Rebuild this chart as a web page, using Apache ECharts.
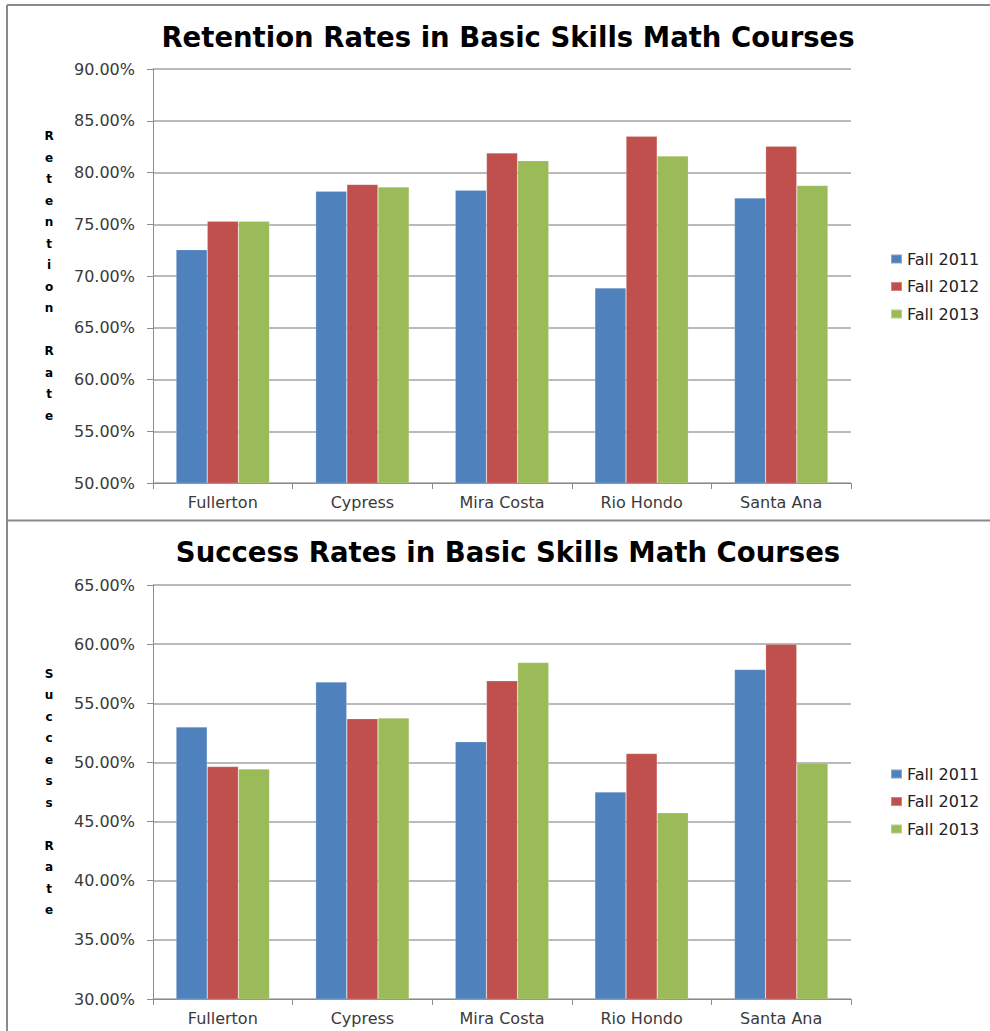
<!DOCTYPE html>
<html>
<head>
<meta charset="utf-8">
<script src="https://cdn.jsdelivr.net/npm/echarts@6/dist/echarts.min.js"></script>
<style>
  html, body { margin: 0; padding: 0; background: #ffffff; }
  #chart { width: 990px; height: 1031px; }
</style>
</head>
<body>
<div id="chart"></div>
<script>
// ---- Data ----
const colleges = ['Fullerton', 'Cypress', 'Mira Costa', 'Rio Hondo', 'Santa Ana'];
const seriesNames = ['Fall 2011', 'Fall 2012', 'Fall 2013'];

// Retention rates (%)
const retention2011 = [72.55, 78.2, 78.3, 68.85, 77.55];
const retention2012 = [75.3, 78.85, 81.9, 83.5, 82.55];
const retention2013 = [75.3, 78.6, 81.15, 81.6, 78.75];

// Success rates (%)
const success2011 = [53.0, 56.8, 51.75, 47.5, 57.85];
const success2012 = [49.65, 53.7, 56.9, 50.75, 60.0];
const success2013 = [49.45, 53.75, 58.45, 45.75, 49.95];

const titles = ['Retention Rates in Basic Skills Math Courses', 'Success Rates in Basic Skills Math Courses'];
const axisTitles = ['Retention Rate', 'Success Rate'];

const colors = ['#4F81BD', '#C0504D', '#9BBB59'];
const FONT = 'DejaVu Sans';

function verticalLetters(s) { return s.split('').join('\n'); }

const chart = echarts.init(document.getElementById('chart'), null, { renderer: 'svg' });

const gridLeft = 153, gridRight = 139, plotH = 414;
const tops = [69, 585];

function yAxisCfg(idx, min, max) {
  return {
    type: 'value', gridIndex: idx, min: min, max: max, interval: 5,
    name: verticalLetters(axisTitles[idx]),
    nameLocation: 'middle', nameRotate: 0, nameGap: 104,
    nameTextStyle: { fontFamily: FONT, fontWeight: 'bold', fontSize: 12, color: '#000', lineHeight: 21.5, align: 'center', verticalAlign: 'middle' },
    axisLine: { show: true, lineStyle: { color: '#8c8c8c', width: 1 } },
    axisTick: { show: true, length: 6, lineStyle: { color: '#8c8c8c' } },
    axisLabel: { margin: 18, fontFamily: FONT, fontSize: 16, color: '#3a3a3a', formatter: v => v.toFixed(2) + '%' },
    splitLine: { show: true, lineStyle: { color: '#a3a3a3', width: 1.5 } }
  };
}
function xAxisCfg(idx) {
  return {
    type: 'category', gridIndex: idx, data: colleges, boundaryGap: true,
    axisLine: { show: true, lineStyle: { color: '#8c8c8c', width: 1 } },
    axisTick: { show: true, length: 6, alignWithLabel: false, lineStyle: { color: '#8c8c8c' } },
    axisLabel: { margin: 11, fontFamily: FONT, fontSize: 16, color: '#3a3a3a' }
  };
}
function barSeries(name, data, ci, idx) {
  return {
    name: name, type: 'bar', xAxisIndex: idx, yAxisIndex: idx, data: data,
    barGap: '0%', barCategoryGap: '33%',
    itemStyle: { color: colors[ci], borderColor: 'rgba(255,255,255,0.3)', borderWidth: 0.6 },
    emphasis: { disabled: true }, animation: false
  };
}
function legendCfg(top) {
  return {
    orient: 'vertical', left: 885, top: top, itemWidth: 11, itemHeight: 9, itemGap: 11.5,
    icon: 'rect', selectedMode: false,
    textStyle: { fontFamily: FONT, fontSize: 16, color: '#222', lineHeight: 16 },
    data: seriesNames
  };
}

const option = {
  backgroundColor: '#ffffff',
  animation: false,
  title: [
    { text: titles[0], left: 503, top: 18, textAlign: 'center',
      textStyle: { fontFamily: FONT, fontWeight: 'bold', fontSize: 27.5, color: '#000' } },
    { text: titles[1], left: 503, top: 533, textAlign: 'center',
      textStyle: { fontFamily: FONT, fontWeight: 'bold', fontSize: 27.5, color: '#000' } }
  ],
  legend: [legendCfg(246), legendCfg(761)],
  grid: [
    { left: gridLeft, right: gridRight, top: tops[0], height: plotH },
    { left: gridLeft, right: gridRight, top: tops[1], height: plotH }
  ],
  xAxis: [xAxisCfg(0), xAxisCfg(1)],
  yAxis: [yAxisCfg(0, 50, 90), yAxisCfg(1, 30, 65)],
  series: [
    barSeries(seriesNames[0], retention2011, 0, 0),
    barSeries(seriesNames[1], retention2012, 1, 0),
    barSeries(seriesNames[2], retention2013, 2, 0),
    barSeries(seriesNames[0], success2011, 0, 1),
    barSeries(seriesNames[1], success2012, 1, 1),
    barSeries(seriesNames[2], success2013, 2, 1)
  ],
  graphic: [
    { type: 'line', shape: { x1: 7, y1: 5, x2: 990, y2: 5 }, style: { stroke: '#8a8a8a', lineWidth: 2 }, silent: true },
    { type: 'line', shape: { x1: 7, y1: 5, x2: 7, y2: 1031 }, style: { stroke: '#8a8a8a', lineWidth: 2 }, silent: true },
    { type: 'line', shape: { x1: 7, y1: 520.5, x2: 990, y2: 520.5 }, style: { stroke: '#8a8a8a', lineWidth: 2 }, silent: true }
  ]
};
chart.setOption(option);
</script>
</body>
</html>
